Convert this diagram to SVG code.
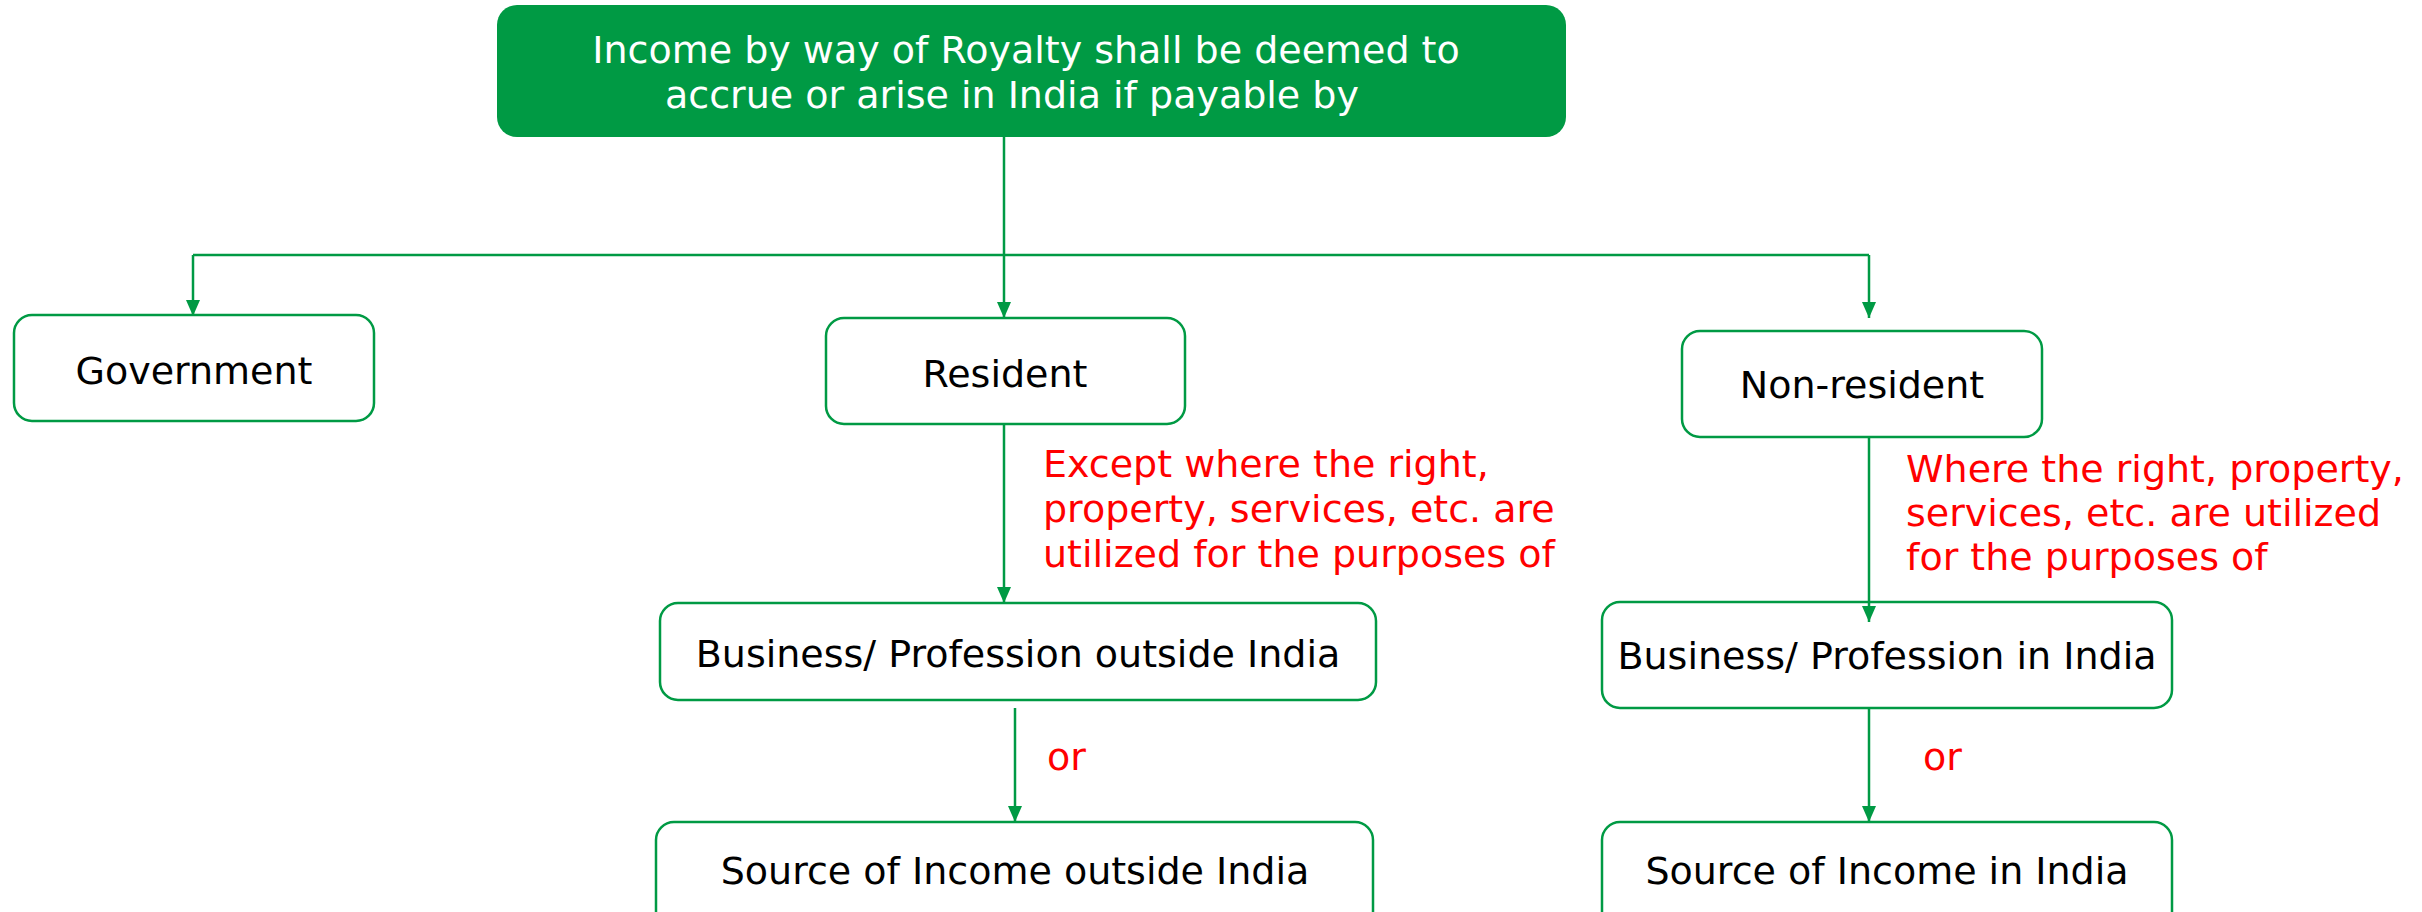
<svg xmlns="http://www.w3.org/2000/svg" width="2422" height="912" viewBox="0 0 2422 912">
<defs>
<style>
.box{fill:#fff;stroke:#009A44;stroke-width:2.5}
.t{font-family:"DejaVu Sans",Verdana,sans-serif;font-size:38px;fill:#000;text-anchor:middle}
.w{font-family:"DejaVu Sans",Verdana,sans-serif;font-size:38px;fill:#fff;text-anchor:middle}
.r{font-family:"DejaVu Sans",Verdana,sans-serif;font-size:38px;fill:#FF0000}
.c{fill:none;stroke:#009A44;stroke-width:2.5}
</style>
<marker id="a" viewBox="0 0 16 16" refX="16" refY="8" markerWidth="16" markerHeight="16" markerUnits="userSpaceOnUse" orient="auto">
<path d="M0,1 L16,8 L0,15 z" fill="#009A44"/>
</marker>
</defs>
<rect width="2422" height="912" fill="#fff"/>
<g id="top">
<rect x="497" y="5" width="1069" height="132" rx="20" fill="#009A44"/>
<text class="w" x="1026" y="63">Income by way of Royalty shall be deemed to</text>
<text class="w" x="1012" y="108">accrue or arise in India if payable by</text>
</g>
<g id="government">
<rect class="box" x="14" y="315" width="360" height="106" rx="18"/>
<text class="t" x="194" y="384">Government</text>
</g>
<g id="resident">
<rect class="box" x="826" y="318" width="359" height="106" rx="18"/>
<text class="t" x="1005" y="387">Resident</text>
</g>
<g id="nonresident">
<rect class="box" x="1682" y="331" width="360" height="106" rx="18"/>
<text class="t" x="1862" y="398">Non-resident</text>
</g>
<g id="bus-outside">
<rect class="box" x="660" y="603" width="716" height="97" rx="18"/>
<text class="t" x="1018" y="667">Business/ Profession outside India</text>
</g>
<g id="bus-india">
<rect class="box" x="1602" y="602" width="570" height="106" rx="18"/>
<text class="t" x="1887" y="669">Business/ Profession in India</text>
</g>
<g id="src-outside">
<rect class="box" x="656" y="822" width="717" height="110" rx="18"/>
<text class="t" x="1015" y="884">Source of Income outside India</text>
</g>
<g id="src-india">
<rect class="box" x="1602" y="822" width="570" height="110" rx="18"/>
<text class="t" x="1887" y="884">Source of Income in India</text>
</g>
<g id="connectors">
<path class="c" d="M1004,137 V318" marker-end="url(#a)"/>
<path class="c" d="M193,255 H1869"/>
<path class="c" d="M193,255 V316" marker-end="url(#a)"/>
<path class="c" d="M1869,255 V318" marker-end="url(#a)"/>
<path class="c" d="M1004,424 V603" marker-end="url(#a)"/>
<path class="c" d="M1869,437 V622" marker-end="url(#a)"/>
<path class="c" d="M1015,708 V822" marker-end="url(#a)"/>
<path class="c" d="M1869,708 V822" marker-end="url(#a)"/>
</g>
<g id="labels">
<text class="r" x="1043" y="477">Except where the right,</text>
<text class="r" x="1043" y="522">property, services, etc. are</text>
<text class="r" x="1043" y="567">utilized for the purposes of</text>
<text class="r" x="1906" y="482">Where the right, property,</text>
<text class="r" x="1906" y="526">services, etc. are utilized</text>
<text class="r" x="1906" y="570">for the purposes of</text>
<text class="r" x="1047" y="770">or</text>
<text class="r" x="1923" y="770">or</text>
</g>
</svg>
